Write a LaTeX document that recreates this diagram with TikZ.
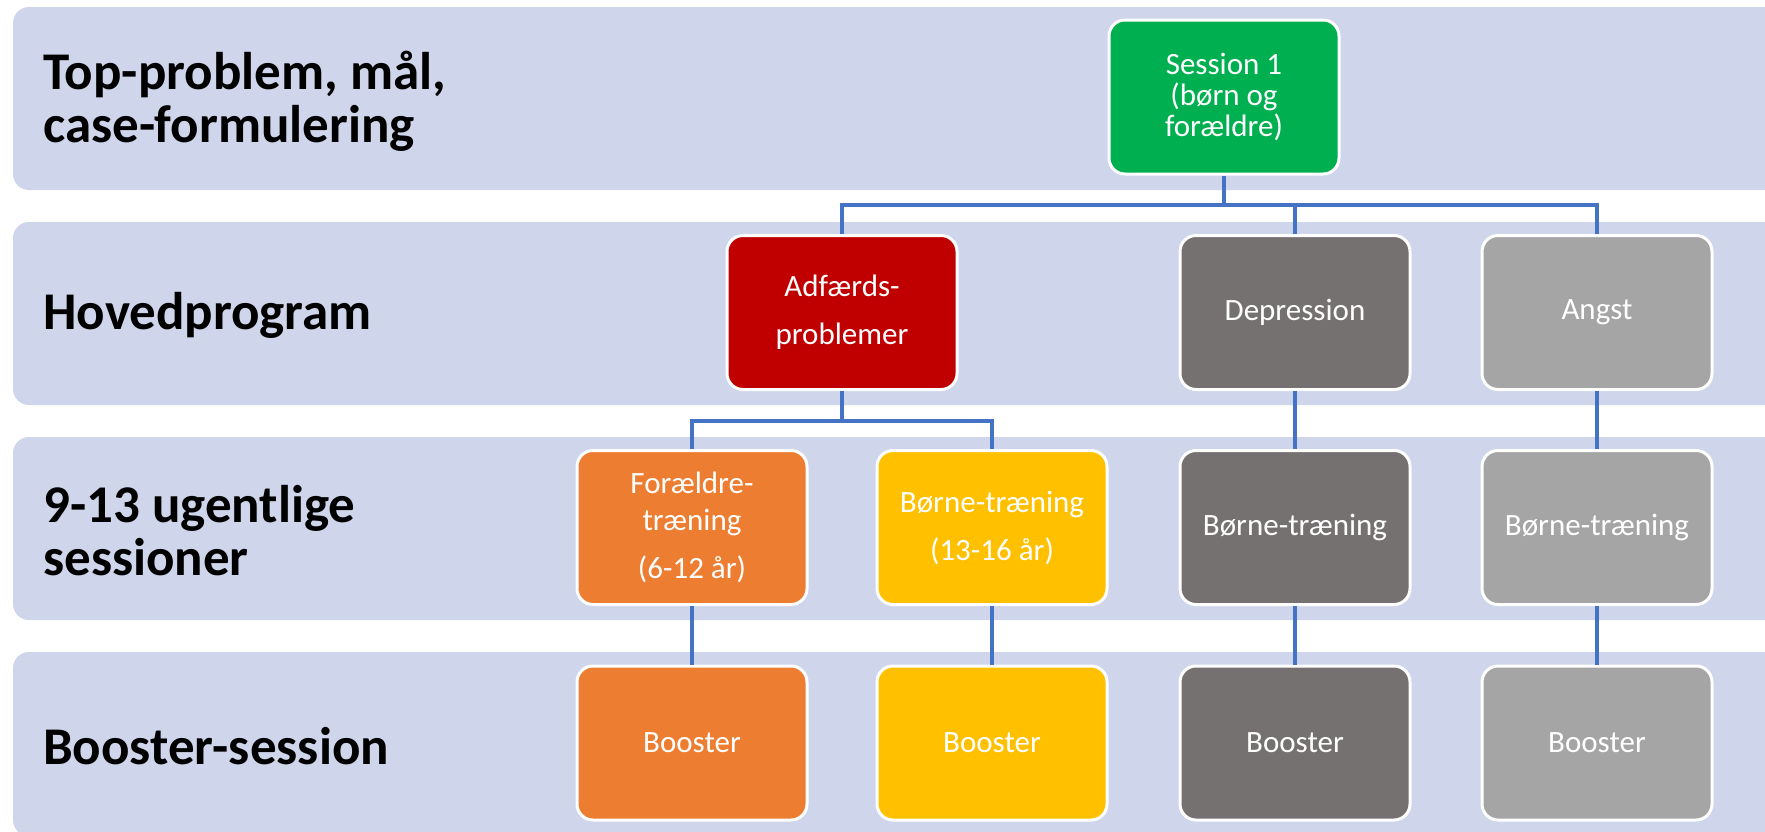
\documentclass[tikz,border=0pt]{standalone}
\usepackage{fontspec}
\setmainfont{Carlito}
\definecolor{band}{HTML}{CFD5EA}
\definecolor{cgreen}{HTML}{00B050}
\definecolor{cred}{HTML}{C00000}
\definecolor{cdgray}{HTML}{767171}
\definecolor{clgray}{HTML}{A5A5A5}
\definecolor{corange}{HTML}{ED7D31}
\definecolor{cyellow}{HTML}{FFC000}
\definecolor{cline}{HTML}{4472C4}
\tikzset{
  bandbox/.style={fill=band, rounded corners=16pt},
  rowlabel/.style={anchor=west, align=left, inner sep=0pt, text=black,
    font=\bfseries\fontsize{53}{53}\selectfont},
  stagebox/.style={draw=white, line width=3pt, rounded corners=16pt,
    minimum width=230pt, minimum height=154pt, inner sep=0pt,
    align=center, text=white, font=\fontsize{31}{31}\selectfont},
  conn/.style={draw=cline, line width=3.2pt},
}
\begin{document}
\begin{tikzpicture}[x=1pt, y=-1pt]
  \useasboundingbox (0,0) rectangle (1765,831);
  \clip (0,0) rectangle (1765,831);

  % horizontal bands
  \fill[bandbox] (13,7) rectangle (1800,190);
  \fill[bandbox] (13,222) rectangle (1800,405);
  \fill[bandbox] (13,437) rectangle (1800,620);
  \fill[bandbox] (13,652) rectangle (1800,836);

  % row labels
  \node[rowlabel] (l1) at (43,101) {Top-problem, mål,\\case-formulering};
  \node[rowlabel] (l2) at (43,315) {Hovedprogram};
  \node[rowlabel] (l3) at (43,531) {9-13 ugentlige\\sessioner};
  \node[rowlabel] (l4) at (43,746) {Booster-session};

  % bus levels
  \coordinate (bus1) at (0,205);
  \coordinate (bus2) at (0,421);

  % stage boxes
  \node[stagebox, fill=cgreen] (s) at (1224,97) {Session 1\\(børn og\\forældre)};
  \node[stagebox, fill=cred] (adf) at (842,312.5) {Adfærds-\\[17pt]problemer};
  \node[stagebox, fill=cdgray] (dep) at (1295,312.5) {Depression};
  \node[stagebox, fill=clgray] (ang) at (1597,312.5) {Angst};

  \node[stagebox, fill=corange] (for) at (692,527.5) {Forældre-\\[6pt]træning\\[17pt](6-12 år)};
  \node[stagebox, fill=cyellow] (bor) at (992,527.5) {Børne-træning\\[17pt](13-16 år)};
  \node[stagebox, fill=cdgray] (depb) at (1295,527.5) {Børne-træning};
  \node[stagebox, fill=clgray] (angb) at (1597,527.5) {Børne-træning};

  \node[stagebox, fill=corange] (for4) at (692,743) {Booster};
  \node[stagebox, fill=cyellow] (bor4) at (992,743) {Booster};
  \node[stagebox, fill=cdgray] (dep4) at (1295,743) {Booster};
  \node[stagebox, fill=clgray] (ang4) at (1597,743) {Booster};

  % connectors between the levels
  \path[conn] (s.south) -- (s.south |- bus1);
  \path[conn] (adf.north) -- (adf.north |- bus1) -- (ang.north |- bus1) -- (ang.north);
  \path[conn] (dep.north) -- (dep.north |- bus1);

  \path[conn] (adf.south) -- (adf.south |- bus2);
  \path[conn] (for.north) -- (for.north |- bus2) -- (bor.north |- bus2) -- (bor.north);
  \path[conn] (dep.south) -- (depb.north);
  \path[conn] (ang.south) -- (angb.north);

  \path[conn] (for.south) -- (for4.north);
  \path[conn] (bor.south) -- (bor4.north);
  \path[conn] (depb.south) -- (dep4.north);
  \path[conn] (angb.south) -- (ang4.north);
\end{tikzpicture}
\end{document}
